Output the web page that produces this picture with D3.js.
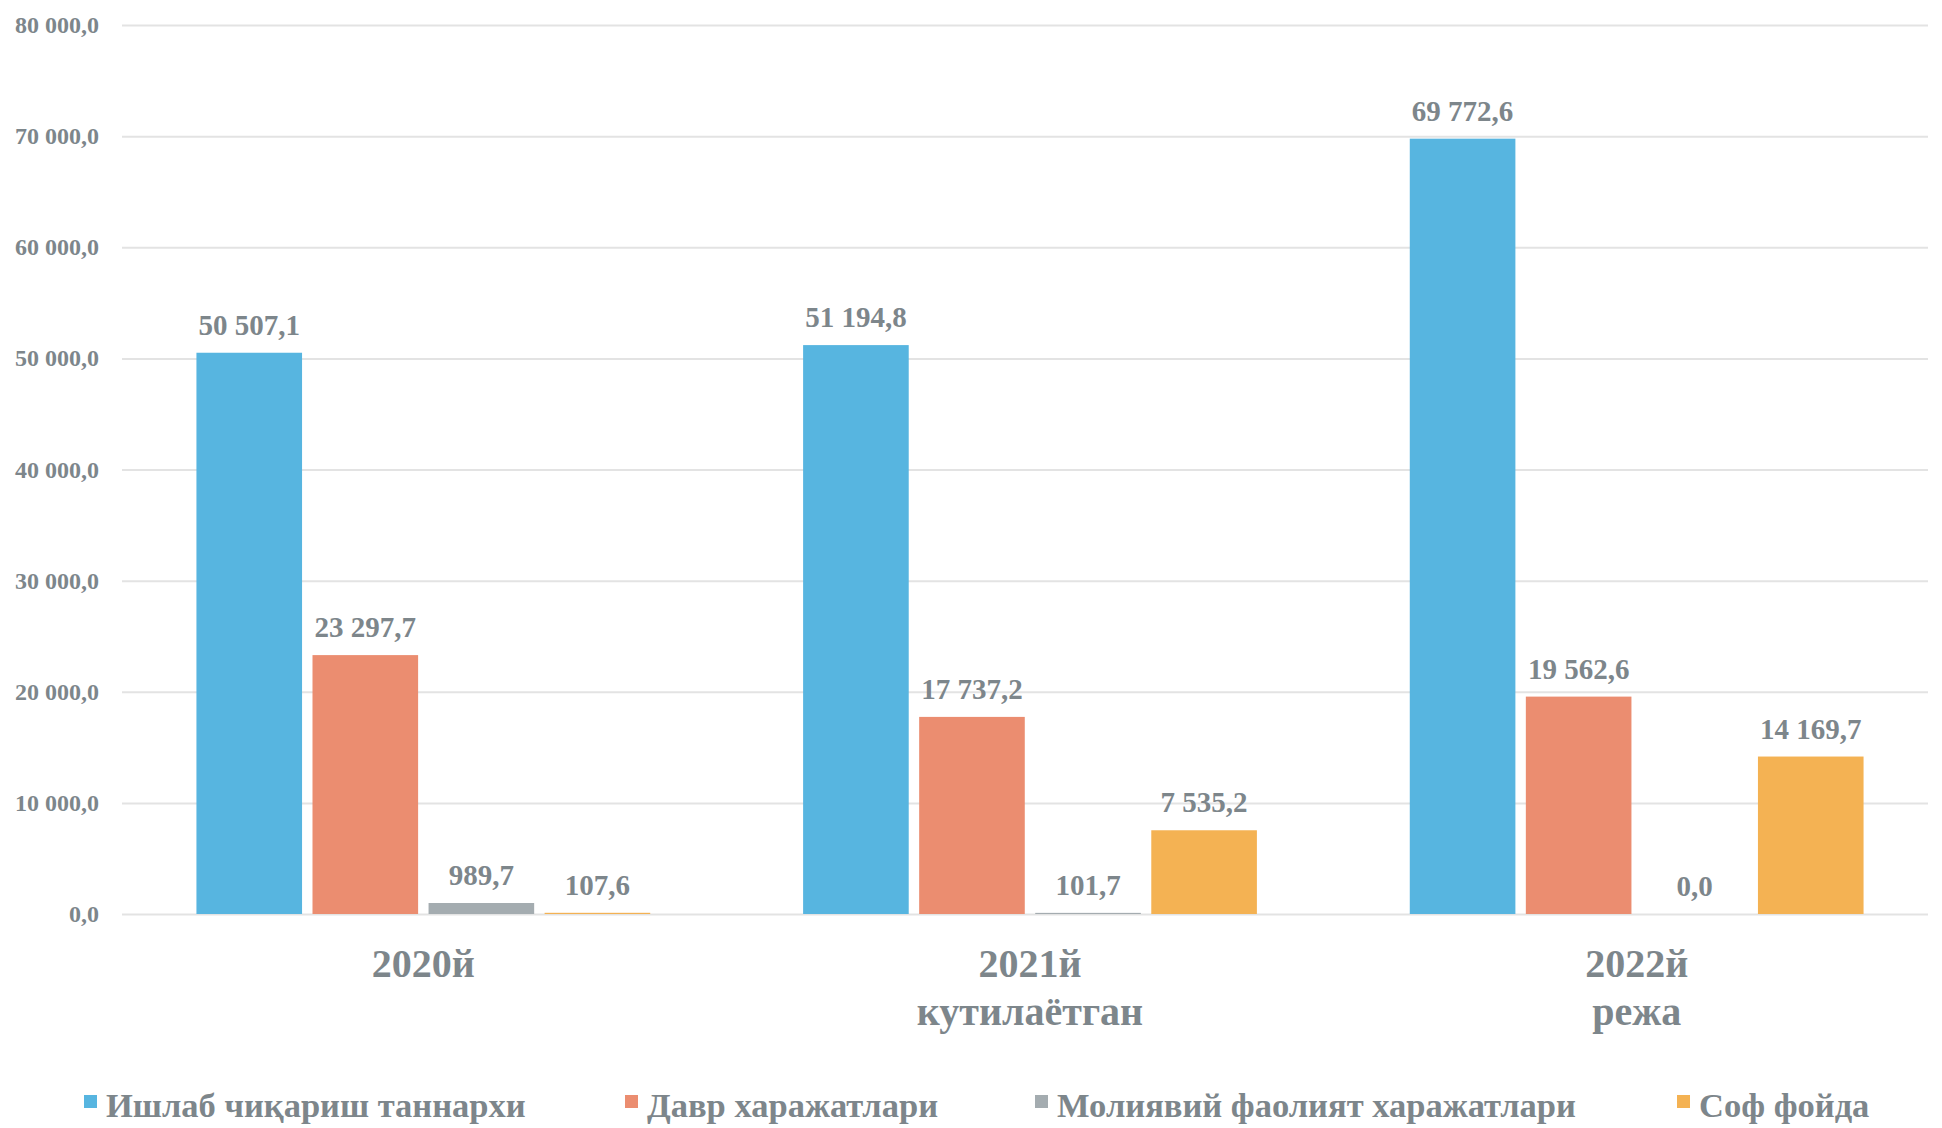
<!DOCTYPE html>
<html lang="uz">
<head>
<meta charset="utf-8">
<title>Харажатлар ва соф фойда</title>
<script src="https://d3js.org/d3.v7.min.js"></script>
<style>
  body { margin: 0; background: #fff; }
  text { font-family: "Liberation Serif", "Times New Roman", serif; font-weight: bold; fill: #7d868b; }
  .grid line { stroke: #e3e3e3; stroke-width: 2px; }
  .grid path { display: none; }
  .yaxis text { font-size: 24px; }
  .val { font-size: 29px; }
  .cat { font-size: 40px; }
  .leg { font-size: 34.5px; }
</style>
</head>
<body>
<div id="chart"></div>
<script>
var categories = [["2020й"], ["2021й", "кутилаётган"], ["2022й", "режа"]];
var seriesNames = ["Ишлаб чиқариш таннархи", "Давр харажатлари", "Молиявий фаолият харажатлари", "Соф фойда"];
var production = [50507.1, 51194.8, 69772.6];
var period = [23297.7, 17737.2, 19562.6];
var financial = [989.7, 101.7, 0.0];
var profit = [107.6, 7535.2, 14169.7];
var yTicks = [0, 10000, 20000, 30000, 40000, 50000, 60000, 70000, 80000];
var colors = ["#57b5e0", "#eb8d70", "#a4acb0", "#f4b253"];

var width = 1942, height = 1128;
var series = [production, period, financial, profit];

var svg = d3.select("#chart").append("svg")
  .attr("width", width).attr("height", height);

var y = d3.scaleLinear().domain([0, 80000]).range([914, 25]);
var x0 = d3.scaleBand().domain(d3.range(categories.length))
  .range([120, 1940]).paddingInner(0.252).paddingOuter(0.126);
var x1 = d3.scaleBand().domain(d3.range(series.length))
  .range([0, x0.bandwidth()]).paddingInner(0.09).paddingOuter(0);

// number format like "50 507,1"
function fmt(v) {
  var s = d3.format(",.1f")(v);
  return s.replace(/,/g, " ").replace(".", ",");
}

// grid + y labels
svg.append("g").attr("class", "grid")
  .attr("transform", "translate(122,0)")
  .call(d3.axisLeft(y).tickValues(yTicks).tickSize(-1806).tickFormat(""));

svg.append("g").attr("class", "yaxis")
  .selectAll("text").data(yTicks).enter().append("text")
  .attr("x", 99).attr("y", function(d) { return y(d) + 8; })
  .attr("text-anchor", "end")
  .text(fmt);

// bars
var groups = svg.selectAll(".grp").data(categories).enter().append("g")
  .attr("class", "grp")
  .attr("transform", function(d, i) { return "translate(" + x0(i) + ",0)"; });

groups.each(function(c, i) {
  var g = d3.select(this);
  series.forEach(function(s, j) {
    var v = s[i];
    g.append("rect")
      .attr("x", x1(j)).attr("width", x1.bandwidth())
      .attr("y", y(v)).attr("height", y(0) - y(v))
      .attr("fill", colors[j]);
    g.append("text").attr("class", "val")
      .attr("x", x1(j) + x1.bandwidth() / 2)
      .attr("y", y(v) - 18)
      .attr("text-anchor", "middle")
      .text(fmt(v));
  });
});

// category labels
groups.each(function(c) {
  var t = d3.select(this).append("text").attr("class", "cat")
    .attr("x", x0.bandwidth() / 2).attr("y", 977)
    .attr("text-anchor", "middle");
  c.forEach(function(line, k) {
    t.append("tspan").attr("x", x0.bandwidth() / 2)
      .attr("dy", k === 0 ? 0 : 48).text(line);
  });
});

// legend
var legX = [84, 625, 1035, 1677];
var leg = svg.selectAll(".legi").data(seriesNames).enter().append("g")
  .attr("class", "legi")
  .attr("transform", function(d, i) { return "translate(" + legX[i] + ",1106)"; });
leg.append("rect").attr("x", 0).attr("y", -11).attr("width", 13).attr("height", 13)
  .attr("fill", function(d, i) { return colors[i]; });
leg.append("text").attr("class", "leg").attr("x", 22).attr("y", 11).text(function(d) { return d; });
</script>
</body>
</html>
